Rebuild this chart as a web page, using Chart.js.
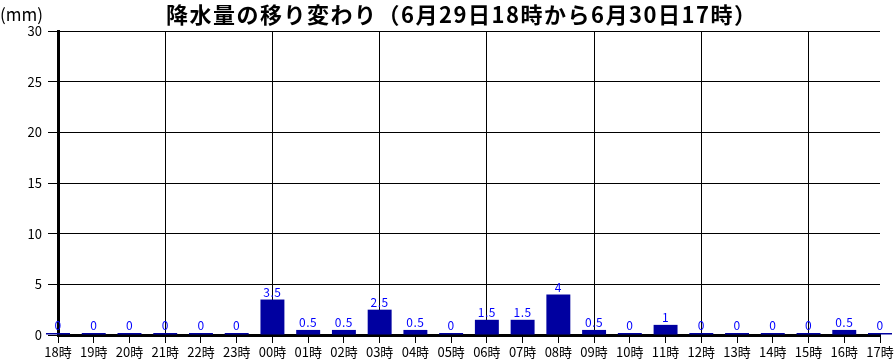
<!DOCTYPE html>
<html><head><meta charset="utf-8">
<script src="https://cdn.jsdelivr.net/npm/chart.js@4/dist/chart.umd.min.js"></script>
<style>html,body{margin:0;padding:0;background:#fff}#wrap{width:895px;height:359px}</style>
</head><body><div id="wrap"><canvas id="c" width="895" height="359"></canvas></div>
<script>
const categories = ["18時","19時","20時","21時","22時","23時","00時","01時","02時","03時","04時","05時","06時","07時","08時","09時","10時","11時","12時","13時","14時","15時","16時","17時"];
const rainfall = [0,0,0,0,0,0,3.5,0.5,0.5,2.5,0.5,0,1.5,1.5,4,0.5,0,1,0,0,0,0,0.5,0];
const yTicks = [0,5,10,15,20,25,30];
const titleText = "降水量の移り変わり（6月29日18時から6月30日17時）";
const unitText = "(mm)";

const FONT = "'Noto Sans CJK JP','DejaVu Sans',sans-serif";

const overlay = {
  id: 'overlay',
  afterDraw(chart) {
    const ctx = chart.ctx;
    ctx.save();
    ctx.fillStyle = '#000';
    ctx.font = "bold 22px " + FONT;
    ctx.textBaseline = 'middle';
    ctx.textAlign = 'left';
    const target = 590;
    const w = ctx.measureText(titleText).width;
    const n = [...titleText].length;
    const ls = (target - w) / (n - 1);
    ctx.letterSpacing = ls + 'px';
    const cx = 461;
    ctx.fillText(titleText, cx - target / 2, 15);
    ctx.letterSpacing = '0px';
    ctx.font = "17px " + FONT;
    ctx.fillText(unitText, 0, 15);
    const meta = chart.getDatasetMeta(0);
    ctx.font = "12px " + FONT;
    ctx.fillStyle = '#0000ff';
    ctx.textAlign = 'center';
    ctx.textBaseline = 'bottom';
    ctx.letterSpacing = '0.5px';
    meta.data.forEach((bar, i) => {
      const v = rainfall[i];
      const y = Math.min(bar.y, bar.base - 2);
      ctx.fillText(String(v), bar.x, y - 1);
    });
    ctx.restore();
  }
};

new Chart(document.getElementById('c'), {
  type: 'bar',
  data: {
    labels: categories,
    datasets: [{
      data: rainfall,
      backgroundColor: '#0000a0',
      borderWidth: 0,
      barPercentage: 0.67,
      categoryPercentage: 1,
      minBarLength: 2,
      clip: false
    }]
  },
  options: {
    responsive: false,
    animation: false,
    events: [],
    layout: { padding: { left: 0, right: 15, top: 31, bottom: 0 } },
    plugins: { legend: { display: false }, title: { display: false }, tooltip: { enabled: false } },
    scales: {
      x: {
        offset: false,
        afterFit(s) { s.height = 24; },
        grid: {
          offset: false,
          color: (c) => (c.index % 3 === 0 ? '#000' : 'rgba(0,0,0,0)'),
          tickColor: '#000',
          tickLength: 8,
          lineWidth: 1,
          drawOnChartArea: true
        },
        border: { color: '#000', width: 3 },
        ticks: { color: '#000', font: { size: 13, family: FONT }, padding: 1, autoSkip: false, maxRotation: 0 }
      },
      y: {
        min: 0, max: 30,
        afterFit(s) { s.width = 58; },
        afterBuildTicks(s) { s.ticks = yTicks.map(v => ({ value: v })); },
        grid: { color: '#000', tickColor: '#000', tickLength: 10, lineWidth: 1 },
        border: { color: '#000', width: 3 },
        ticks: { color: '#000', font: { size: 13, family: FONT }, padding: 6 }
      }
    }
  },
  plugins: [overlay]
});
</script></body></html>
